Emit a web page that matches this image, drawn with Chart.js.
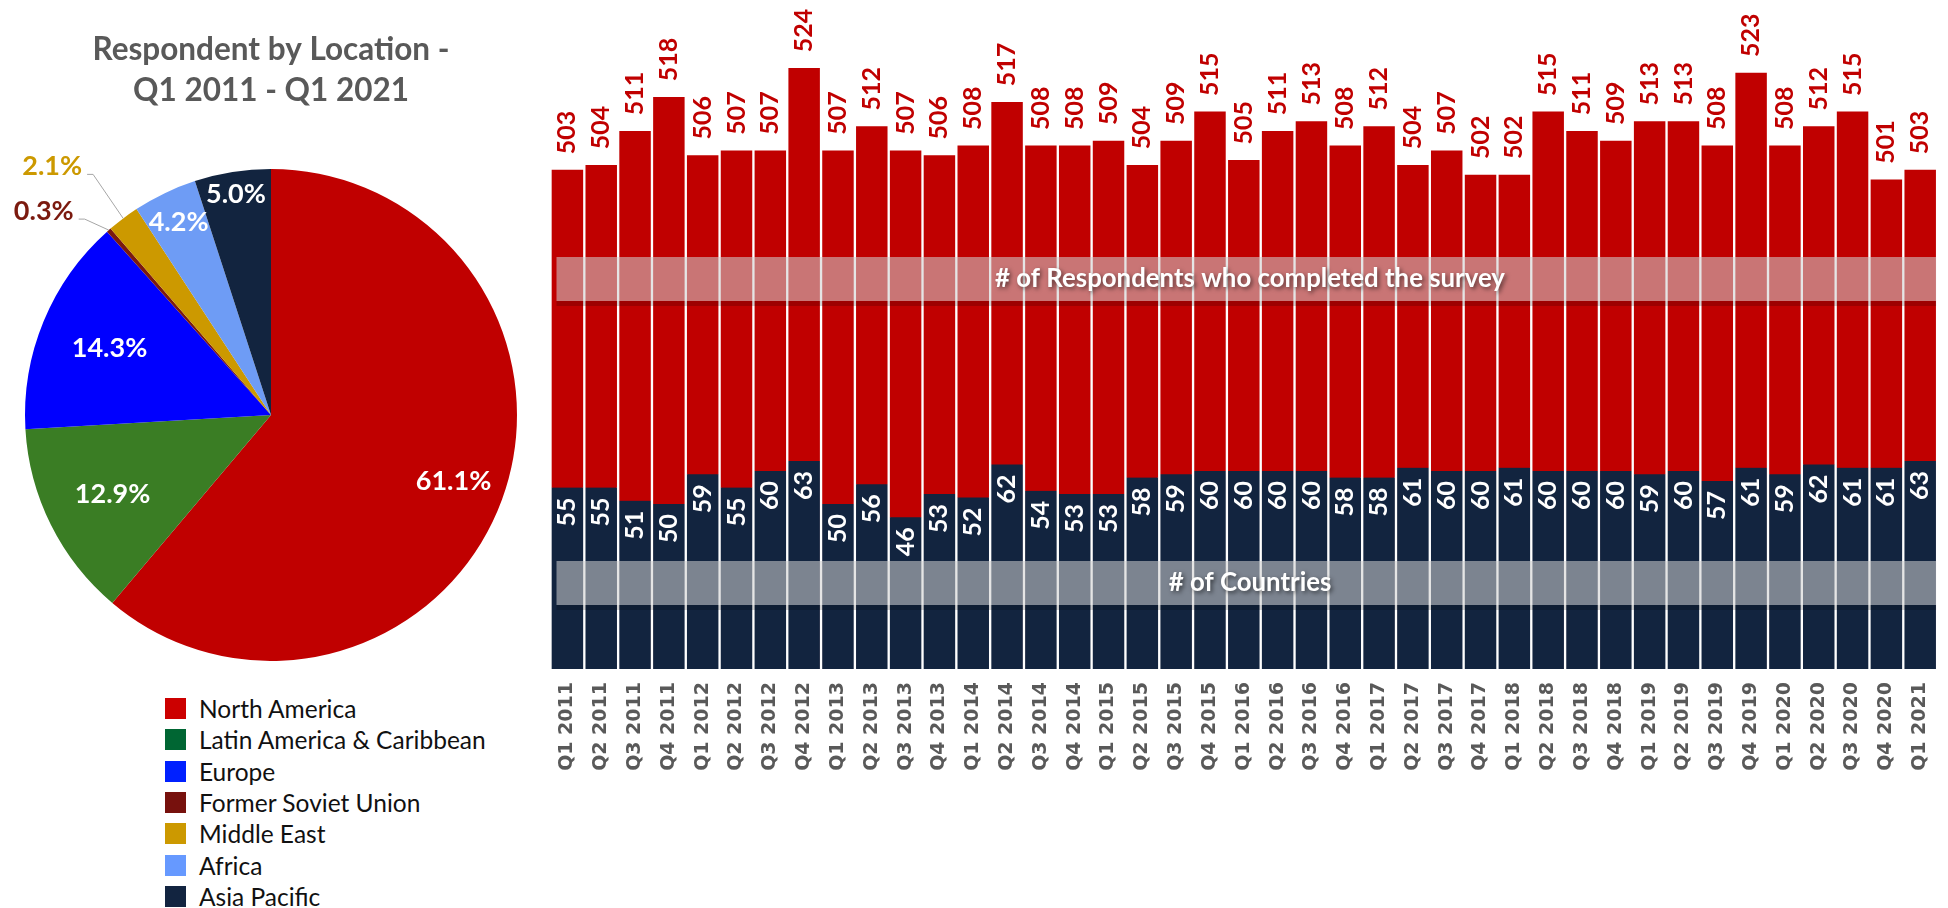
<!DOCTYPE html>
<html>
<head>
<meta charset="utf-8">
<script src="https://cdn.jsdelivr.net/npm/chart.js@4.4.0/dist/chart.umd.min.js"></script>
<style>
  body { margin: 0; background: #fff; width: 1948px; height: 908px; overflow: hidden; position: relative; font-family: Lato, sans-serif; }
  #pie { position: absolute; left: 0; top: 0; }
  #bars { position: absolute; left: 540px; top: 0; }
  #legend { position: absolute; left: 165px; top: 693px; }
  .item { display: flex; align-items: center; height: 31.3px; font-size: 24.5px; color: #111; white-space: nowrap; }
  .box { width: 21px; height: 21px; margin-right: 13px; }
</style>
</head>
<body>
<canvas id="pie" width="542" height="661"></canvas>
<div id="legend"></div>
<canvas id="bars" width="1408" height="908"></canvas>
<script>
// pie data
const regions = ['North America', 'Latin America & Caribbean', 'Europe', 'Former Soviet Union', 'Middle East', 'Africa', 'Asia Pacific'];
const shares = [61.1, 12.9, 14.3, 0.3, 2.1, 4.2, 5.0];
const sliceColors = ['#C00000', '#3A7D24', '#0000FF', '#7B1A0F', '#CC9900', '#6E9CF5', '#12243F'];
const legendColors = ['#CC0000', '#006633', '#0020FF', '#77110D', '#CC9900', '#6699FF', '#122440'];

// bar data
const quarters = [
  'Q1 2011', 'Q2 2011', 'Q3 2011', 'Q4 2011',
  'Q1 2012', 'Q2 2012', 'Q3 2012', 'Q4 2012',
  'Q1 2013', 'Q2 2013', 'Q3 2013', 'Q4 2013',
  'Q1 2014', 'Q2 2014', 'Q3 2014', 'Q4 2014',
  'Q1 2015', 'Q2 2015', 'Q3 2015', 'Q4 2015',
  'Q1 2016', 'Q2 2016', 'Q3 2016', 'Q4 2016',
  'Q1 2017', 'Q2 2017', 'Q3 2017', 'Q4 2017',
  'Q1 2018', 'Q2 2018', 'Q3 2018', 'Q4 2018',
  'Q1 2019', 'Q2 2019', 'Q3 2019', 'Q4 2019',
  'Q1 2020', 'Q2 2020', 'Q3 2020', 'Q4 2020',
  'Q1 2021'
];
const respondents = [503, 504, 511, 518, 506, 507, 507, 524, 507, 512, 507, 506, 508, 517, 508, 508, 509, 504, 509, 515, 505, 511, 513, 508, 512, 504, 507, 502, 502, 515, 511, 509, 513, 513, 508, 523, 508, 512, 515, 501, 503];
const countries = [55, 55, 51, 50, 59, 55, 60, 63, 50, 56, 46, 53, 52, 62, 54, 53, 53, 58, 59, 60, 60, 60, 60, 58, 58, 61, 60, 60, 61, 60, 60, 60, 59, 60, 57, 61, 59, 62, 61, 61, 63];
const bandTexts = ['# of Respondents who completed the survey', '# of Countries'];

// html legend
let lg = document.getElementById('legend');
regions.forEach((r, i) => {
  let row = document.createElement('div');
  row.className = 'item';
  row.innerHTML = '<span class="box" style="background:' + legendColors[i] + '"></span>' + r;
  lg.appendChild(row);
});

// label spots for the pie: inside ones by radius fraction, outside ones by offset from the rim
const labelSpots = [
  { r: 0.79 }, { r: 0.72 }, { r: 0.71 },
  { out: true, dx: -65, dy: -19, color: '#7B1A0F' },
  { out: true, dx: -71, dy: -52, color: '#CC9900' },
  { r: 0.87 }, { r: 0.91 }
];

const pieLabels = {
  id: 'pieLabels',
  afterDatasetsDraw(chart) {
    const ctx = chart.ctx;
    const arcs = chart.getDatasetMeta(0).data;
    ctx.save();
    ctx.font = 'bold 27px Lato';
    ctx.textAlign = 'center';
    ctx.textBaseline = 'middle';
    arcs.forEach((arc, i) => {
      const mid = (arc.startAngle + arc.endAngle) / 2;
      const c = Math.cos(mid), s = Math.sin(mid);
      const txt = shares[i].toFixed(1) + '%';
      const spot = labelSpots[i];
      if (spot.out) {
        const ex = arc.x + c * arc.outerRadius, ey = arc.y + s * arc.outerRadius;
        const tx = ex + spot.dx, ty = ey + spot.dy;
        const half = ctx.measureText(txt).width / 2;
        ctx.strokeStyle = '#A6A6A6';
        ctx.lineWidth = 1;
        ctx.beginPath();
        ctx.moveTo(tx + half + 5, ty + 8);
        ctx.lineTo(tx + half + 11, ty + 8);
        ctx.lineTo(ex, ey);
        ctx.stroke();
        ctx.fillStyle = spot.color;
        ctx.fillText(txt, tx, ty);
      } else {
        const r = arc.outerRadius * spot.r;
        ctx.fillStyle = '#fff';
        ctx.fillText(txt, arc.x + c * r, arc.y + s * r);
      }
    });
    ctx.restore();
  }
};

new Chart(document.getElementById('pie'), {
  type: 'pie',
  data: {
    labels: regions,
    datasets: [{ data: shares, backgroundColor: sliceColors, borderWidth: 0 }]
  },
  options: {
    responsive: false,
    animation: false,
    plugins: {
      legend: { display: false },
      tooltip: { enabled: false },
      title: {
        display: true,
        text: ['Respondent by Location -', 'Q1 2011 - Q1 2021'],
        color: '#595959',
        font: { family: 'Lato', weight: 'bold', size: 31.5, lineHeight: 1.286 },
        padding: { top: 30, bottom: 58 }
      }
    }
  },
  plugins: [pieLabels]
});

const barLabels = {
  id: 'barLabels',
  afterDatasetsDraw(chart) {
    const { ctx, chartArea } = chart;
    ctx.save();
    // translucent bands across the bars
    const bandTops = [chartArea.top + 248, chartArea.top + 552];
    bandTops.forEach((top, i) => {
      const left = chartArea.left + 6, w = chartArea.right - 1 - left, h = 44;
      ctx.fillStyle = 'rgba(0,0,0,0.18)';
      ctx.fillRect(left, top + h, w, 5);
      ctx.fillStyle = 'rgba(208,208,208,0.56)';
      ctx.fillRect(left, top, w, h);
      ctx.save();
      ctx.shadowColor = 'rgba(0,0,0,0.55)';
      ctx.shadowBlur = 4;
      ctx.shadowOffsetX = 2;
      ctx.shadowOffsetY = 2;
      ctx.fillStyle = '#fff';
      ctx.font = 'bold 25.8px Lato';
      ctx.textAlign = 'center';
      ctx.textBaseline = 'middle';
      ctx.fillText(bandTexts[i], 710, top + h / 2);
      ctx.restore();
    });
    // value labels, rotated
    ctx.font = 'bold 25px Lato';
    ctx.textBaseline = 'middle';
    chart.getDatasetMeta(0).data.forEach((bar, i) => {
      ctx.save();
      ctx.translate(bar.x, bar.y - 15);
      ctx.rotate(-Math.PI / 2);
      ctx.textAlign = 'left';
      ctx.fillStyle = '#C00000';
      ctx.fillText(respondents[i], 0, 0);
      ctx.restore();
    });
    chart.getDatasetMeta(1).data.forEach((bar, i) => {
      ctx.save();
      ctx.translate(bar.x, bar.y + 10);
      ctx.rotate(-Math.PI / 2);
      ctx.textAlign = 'right';
      ctx.fillStyle = '#fff';
      ctx.fillText(countries[i], 0, 0);
      ctx.restore();
    });
    ctx.restore();
  }
};

new Chart(document.getElementById('bars'), {
  type: 'bar',
  data: {
    labels: quarters,
    datasets: [{
      label: 'Respondents',
      data: respondents,
      yAxisID: 'yResp',
      backgroundColor: '#C00000',
      borderColor: '#ffffff',
      borderWidth: { left: 1.5, right: 1.5, top: 1, bottom: 0 },
      grouped: false,
      order: 2,
      categoryPercentage: 1,
      barPercentage: 1
    }, {
      label: 'Countries',
      data: countries,
      yAxisID: 'yCountries',
      backgroundColor: '#12243F',
      borderColor: '#ffffff',
      borderWidth: { left: 1.5, right: 1.5, top: 0, bottom: 0 },
      grouped: false,
      order: 1,
      categoryPercentage: 1,
      barPercentage: 1
    }]
  },
  options: {
    responsive: false,
    animation: false,
    layout: { padding: { left: 10.5, top: 9, right: 0, bottom: 0 } },
    plugins: { legend: { display: false }, tooltip: { enabled: false } },
    scales: {
      x: {
        grid: { display: false },
        border: { display: false },
        ticks: {
          autoSkip: false,
          minRotation: 90,
          maxRotation: 90,
          padding: 5,
          color: '#595959',
          font: { family: 'DejaVu Sans', weight: 'bold', size: 19 }
        },
        afterFit(scale) { scale.height = 239; }
      },
      yResp: { display: false, min: 400, max: 536 },
      yCountries: { display: false, min: 0, max: 200 }
    }
  },
  plugins: [barLabels]
});
</script>
</body>
</html>
